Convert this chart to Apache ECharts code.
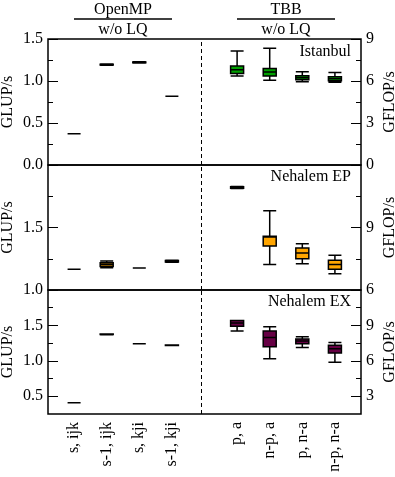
<!DOCTYPE html>
<html>
<head>
<meta charset="utf-8">
<script src="https://cdn.jsdelivr.net/npm/echarts@6/dist/echarts.min.js"></script>
<style>
  body { margin: 0; background: #fff; }
  #main { width: 395px; height: 477px; }
</style>
</head>
<body>
<div id="main"></div>
<script>
// categories along the x axis (a gap is left between the two groups)
var categories = ['s, ijk', 's-1, ijk', 's, kji', 's-1, kji', 'p, a', 'n-p, a', 'p, n-a', 'n-p, n-a'];
var groups = ['OpenMP', 'TBB'];
var subTitle = 'w/o LQ';
var machines = ['Istanbul', 'Nehalem EP', 'Nehalem EX'];
var boxColors = ['#00a000', '#ffa500', '#660044'];

// [min, Q1, median, Q3, max] in GLUP/s
var istanbul = [
    [0.373, 0.373, 0.373, 0.373, 0.373],
    [1.188, 1.190, 1.195, 1.200, 1.202],
    [1.215, 1.217, 1.222, 1.227, 1.229],
    [0.818, 0.818, 0.818, 0.818, 0.818],
    [1.06, 1.09, 1.135, 1.18, 1.357],
    [1.01, 1.06, 1.107, 1.15, 1.39],
    [0.99, 1.016, 1.04, 1.063, 1.11],
    [0.985, 1.003, 1.027, 1.05, 1.10]
];
var nehalemEP = [
    [1.167, 1.167, 1.167, 1.167, 1.167],
    [1.178, 1.188, 1.204, 1.218, 1.232],
    [1.177, 1.177, 1.177, 1.177, 1.177],
    [1.222, 1.224, 1.230, 1.236, 1.238],
    [1.812, 1.814, 1.820, 1.826, 1.828],
    [1.204, 1.352, 1.425, 1.431, 1.635],
    [1.21, 1.25, 1.296, 1.336, 1.37],
    [1.13, 1.167, 1.204, 1.238, 1.278]
];
var nehalemEX = [
    [0.41, 0.41, 0.41, 0.41, 0.41],
    [1.370, 1.372, 1.375, 1.378, 1.380],
    [1.24, 1.24, 1.24, 1.24, 1.24],
    [1.215, 1.217, 1.220, 1.223, 1.225],
    [1.42, 1.49, 1.535, 1.57, 1.57],
    [1.03, 1.20, 1.33, 1.42, 1.48],
    [1.19, 1.24, 1.28, 1.31, 1.34],
    [0.98, 1.11, 1.17, 1.22, 1.26]
];
var panelData = [istanbul, nehalemEP, nehalemEX];

// y ranges (GLUP/s), ticks and labels per panel; GFLOP/s = 6 x GLUP/s
var yMin = [0, 1.0, 0.25];
var yMax = [1.5, 2.0, 2.0];
var leftMajor = [[0, 0.5, 1.0, 1.5], [1.0, 1.5, 2.0], [0.5, 1.0, 1.5, 2.0]];
var leftMinor = [[0.25, 0.75, 1.25], [1.25, 1.75], [0.75, 1.25, 1.75]];
var leftLabels = [[0, 0.5, 1.0, 1.5], [1.0, 1.5], [0.5, 1.0, 1.5]];
var rightMajor = [[0, 3, 6, 9], [6, 9, 12], [3, 6, 9, 12]];
var rightMinor = [[1.5, 4.5, 7.5], [7.5, 10.5], [4.5, 7.5, 10.5]];
var rightLabels = [[0, 3, 6, 9], [6, 9], [3, 6, 9]];
var flopPerLup = 6;

var font = 'Liberation Serif';
var gridTops = [39, 165, 290];
var gridHeights = [126, 125, 124];
var sepX = 3.9;

function slot(i) { return i < 4 ? i : i + 1; }

var chart = echarts.init(document.getElementById('main'));

var grids = [], xAxes = [], yAxes = [], series = [];

function yPair(gi, pos, min, max, major, minor, labels, name, fmt) {
    var tickStyle = { color: '#000', width: 1 };
    yAxes.push({
        type: 'value', gridIndex: gi, position: pos, min: min, max: max,
        axisLine: { show: false, onZero: false }, splitLine: { show: false },
        axisTick: { inside: true, length: 10, customValues: major, lineStyle: tickStyle },
        axisLabel: { customValues: labels, formatter: fmt, color: '#000', fontFamily: font, fontSize: 16, margin: 5 },
        name: name, nameLocation: 'middle', nameRotate: 90, nameMoveOverlap: false,
        nameGap: pos === 'left' ? 32 : 21,
        nameTextStyle: { color: '#000', fontFamily: font, fontSize: 16 }
    });
    yAxes.push({
        type: 'value', gridIndex: gi, position: pos, min: min, max: max,
        axisLine: { show: false, onZero: false }, splitLine: { show: false }, axisLabel: { show: false },
        axisTick: { inside: true, length: 5, customValues: minor, lineStyle: tickStyle }
    });
}

for (var g = 0; g < 3; g++) {
    grids.push({
        left: 48, right: 34, top: gridTops[g], height: gridHeights[g],
        outerBoundsMode: 'none', containLabel: false,
        show: true, borderColor: '#000', borderWidth: 1.5
    });
    xAxes.push({
        type: 'value', gridIndex: g, min: -0.8, max: 8.8,
        axisLine: { show: false, onZero: false }, axisTick: { show: false }, splitLine: { show: false },
        axisLabel: g === 2 ? {
            customValues: categories.map(function (c, i) { return slot(i); }),
            formatter: function (v) { return categories[v < 4 ? v : v - 1]; },
            rotate: 90, margin: 8, color: '#000', fontFamily: font, fontSize: 16
        } : { show: false }
    });
    yPair(g, 'left', yMin[g], yMax[g], leftMajor[g], leftMinor[g], leftLabels[g], 'GLUP/s',
        function (v) { return v.toFixed(1); });
    yPair(g, 'right', yMin[g] * flopPerLup, yMax[g] * flopPerLup, rightMajor[g], rightMinor[g], rightLabels[g], 'GFLOP/s',
        function (v) { return String(v); });

    series.push({
        type: 'boxplot', name: machines[g], xAxisIndex: g, yAxisIndex: g * 4,
        boxWidth: [13, 13],
        itemStyle: { color: boxColors[g], borderColor: '#000', borderWidth: 1.5 },
        data: panelData[g].map(function (d, i) { return [slot(i)].concat(d); }),
        markLine: {
            silent: true, symbol: 'none', label: { show: false },
            lineStyle: { color: '#000', type: [4, 3], width: 1 },
            data: [{ xAxis: sepX }]
        }
    });
}

var textStyle = function (txt, x, y, align) {
    return {
        type: 'text', x: x, y: y,
        style: { text: txt, fill: '#000', font: '16px "' + font + '"', textAlign: align, textVerticalAlign: 'top' }
    };
};

var graphics = [
    textStyle(groups[0], 123, 2, 'center'),
    textStyle(subTitle, 123, 22, 'center'),
    textStyle(groups[1], 286, 2, 'center'),
    textStyle(subTitle, 286, 22, 'center'),
    { type: 'line', shape: { x1: 74, y1: 19, x2: 172, y2: 19 }, style: { stroke: '#000', lineWidth: 1.5 } },
    { type: 'line', shape: { x1: 237, y1: 19, x2: 335, y2: 19 }, style: { stroke: '#000', lineWidth: 1.5 } },
    textStyle(machines[0], 351, 44, 'right'),
    textStyle(machines[1], 351, 169, 'right'),
    textStyle(machines[2], 351, 294, 'right')
];

chart.setOption({
    animation: false,
    grid: grids,
    xAxis: xAxes,
    yAxis: yAxes,
    series: series,
    graphic: graphics
});
</script>
</body>
</html>
